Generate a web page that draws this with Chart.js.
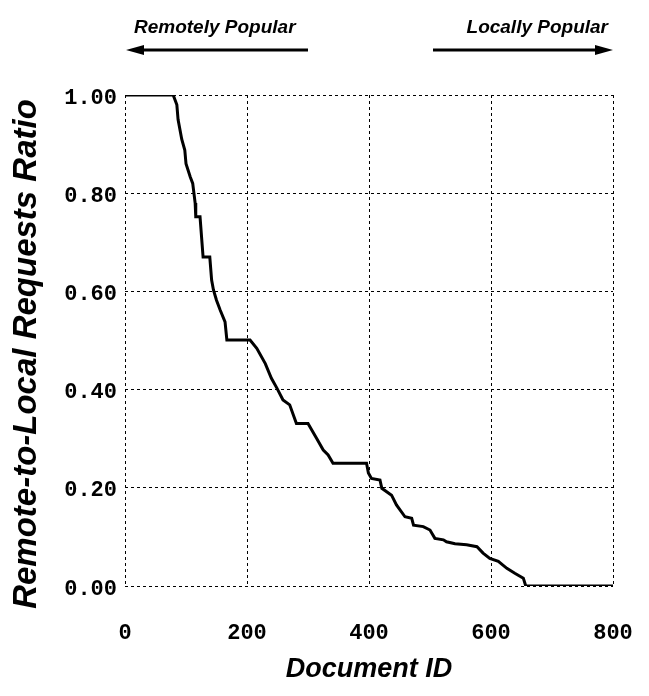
<!DOCTYPE html>
<html>
<head>
<meta charset="utf-8">
<script src="https://cdn.jsdelivr.net/npm/chart.js@4"></script>
<style>
  html, body { margin: 0; padding: 0; background: #fff; }
  #wrap { width: 649px; height: 696px; }
</style>
</head>
<body>
<div id="wrap"><canvas id="chart"></canvas></div>
<script>
// document id (x) and remote-to-local ratio (y)
const docIds = [0, 79, 85, 87, 93, 98, 100, 107, 111, 115,
    116, 123, 128, 139, 142, 145, 150, 156, 164, 167,
    205, 216, 230, 240, 249, 259, 270, 281, 300, 314,
    325, 333, 341, 396, 399, 404, 418, 421, 437, 445,
    459, 470, 473, 489, 500, 508, 522, 527, 541, 560,
    577, 587, 598, 612, 626, 639, 653, 657, 800];
const ratios = [1, 1, 0.98, 0.95, 0.91, 0.888, 0.86, 0.833, 0.82, 0.78,
    0.752, 0.752, 0.67, 0.67, 0.623, 0.603, 0.582, 0.562, 0.538, 0.501,
    0.501, 0.484, 0.453, 0.423, 0.403, 0.379, 0.369, 0.331, 0.331, 0.301,
    0.277, 0.267, 0.25, 0.25, 0.23, 0.219, 0.216, 0.199, 0.185, 0.165,
    0.141, 0.138, 0.124, 0.121, 0.114, 0.097, 0.094, 0.09, 0.086, 0.084,
    0.08, 0.067, 0.056, 0.05, 0.036, 0.026, 0.016, 0, 0];
const xTicks = [0, 200, 400, 600, 800];
const yTicks = [0, 0.2, 0.4, 0.6, 0.8, 1.0];
const leftNote = 'Remotely Popular';
const rightNote = 'Locally Popular';
const yTitle = 'Remote-to-Local Requests Ratio';

const points = docIds.map((x, i) => ({ x: x, y: ratios[i] }));

const noteFont = 'bold italic 19px "Liberation Sans", Arial, sans-serif';

// notes with arrows above the plot, and the y title
const notesPlugin = {
    id: 'notes',
    afterDraw(chart) {
        const ctx = chart.ctx;
        const area = chart.chartArea;
        ctx.save();
        ctx.fillStyle = '#000';
        ctx.strokeStyle = '#000';
        ctx.font = noteFont;
        ctx.textBaseline = 'alphabetic';
        ctx.textAlign = 'left';
        ctx.fillText(leftNote, 134, 33);
        ctx.textAlign = 'right';
        ctx.fillText(rightNote, 608, 33);

        ctx.lineWidth = 3;
        const ay = 50;
        // left arrow
        ctx.beginPath();
        ctx.moveTo(area.left + 14, ay);
        ctx.lineTo(308, ay);
        ctx.stroke();
        ctx.beginPath();
        ctx.moveTo(area.left + 1, ay);
        ctx.lineTo(area.left + 19, ay - 5);
        ctx.lineTo(area.left + 19, ay + 5);
        ctx.closePath();
        ctx.fill();
        // right arrow
        ctx.beginPath();
        ctx.moveTo(433, ay);
        ctx.lineTo(area.right - 14, ay);
        ctx.stroke();
        ctx.beginPath();
        ctx.moveTo(area.right, ay);
        ctx.lineTo(area.right - 18, ay - 5);
        ctx.lineTo(area.right - 18, ay + 5);
        ctx.closePath();
        ctx.fill();

        // rotated y axis title
        ctx.translate(27, 354);
        ctx.rotate(-Math.PI / 2);
        ctx.font = 'bold italic 33px "Liberation Sans", Arial, sans-serif';
        ctx.textAlign = 'center';
        ctx.textBaseline = 'middle';
        ctx.fillText(yTitle, 0, 0);
        ctx.restore();
    }
};

const tickFont = { family: '"Liberation Mono", "Courier New", monospace', size: 22, weight: 'bold' };

new Chart(document.getElementById('chart'), {
    type: 'scatter',
    data: {
        datasets: [{
            data: points,
            showLine: true,
            borderColor: '#000',
            backgroundColor: '#000',
            borderWidth: 3,
            pointRadius: 0,
            tension: 0
        }]
    },
    options: {
        responsive: true,
        maintainAspectRatio: false,
        animation: false,
        layout: { padding: { top: 95, right: 36, left: 0, bottom: 0 } },
        plugins: {
            legend: { display: false },
            tooltip: { enabled: false }
        },
        scales: {
            x: {
                type: 'linear',
                min: 0,
                max: 800,
                afterBuildTicks: axis => { axis.ticks = xTicks.map(v => ({ value: v })); },
                afterFit: axis => { axis.height = 110; axis.paddingLeft = 0; axis.paddingRight = 0; },
                grid: { color: '#000', lineWidth: 1, drawTicks: false },
                border: { display: false, dash: [3, 3] },
                ticks: { color: '#000', font: tickFont, padding: 34, maxRotation: 0 },
                title: {
                    display: true,
                    text: 'Document ID',
                    color: '#000',
                    font: { family: '"Liberation Sans", Arial, sans-serif', size: 27, weight: 'bold', style: 'italic' },
                    padding: { top: 0, bottom: 10 }
                }
            },
            y: {
                min: 0,
                max: 1,
                afterBuildTicks: axis => { axis.ticks = yTicks.map(v => ({ value: v })); },
                afterFit: axis => { axis.width = 125; axis.paddingTop = 0; axis.paddingBottom = 0; },
                grid: { color: '#000', lineWidth: 1, drawTicks: false },
                border: { display: false, dash: [3, 3] },
                ticks: { color: '#000', font: tickFont, padding: 8, labelOffset: 3, callback: v => v.toFixed(2) },
                title: { display: false }
            }
        }
    },
    plugins: [notesPlugin]
});
</script>
</body>
</html>
